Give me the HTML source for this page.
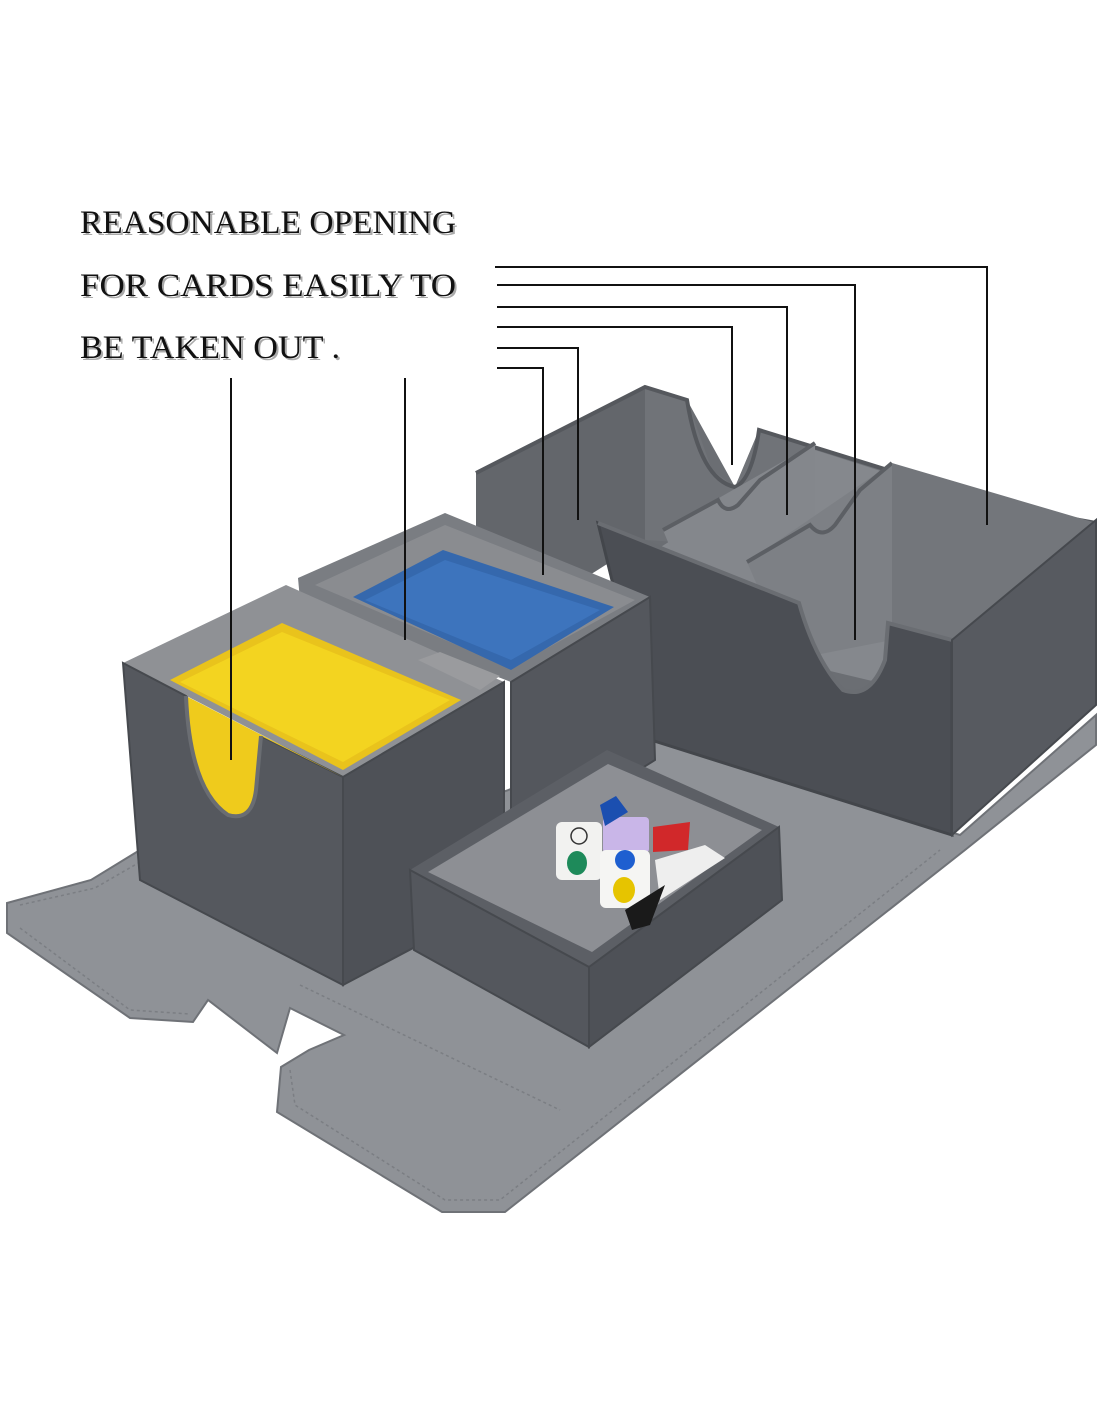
<!DOCTYPE html>
<html><head><meta charset="utf-8"><style>
html,body{margin:0;padding:0;background:#fff;}
svg{display:block}
.t{font-family:"Liberation Serif",serif;font-size:33px;fill:#111;}
.s{font-family:"Liberation Serif",serif;font-size:33px;fill:#aaa;}
</style></head><body>
<svg width="1100" height="1422" viewBox="0 0 1100 1422" xmlns="http://www.w3.org/2000/svg">
<rect width="1100" height="1422" fill="#fff"/>
<g>
<text class="s" x="82" y="235" textLength="376" lengthAdjust="spacingAndGlyphs">REASONABLE OPENING</text>
<text class="t" x="80" y="233" textLength="376" lengthAdjust="spacingAndGlyphs">REASONABLE OPENING</text>
<text class="s" x="82" y="298" textLength="376" lengthAdjust="spacingAndGlyphs">FOR CARDS  EASILY TO</text>
<text class="t" x="80" y="296" textLength="376" lengthAdjust="spacingAndGlyphs">FOR CARDS  EASILY TO</text>
<text class="s" x="82" y="360" textLength="260" lengthAdjust="spacingAndGlyphs">BE TAKEN OUT .</text>
<text class="t" x="80" y="358" textLength="260" lengthAdjust="spacingAndGlyphs">BE TAKEN OUT .</text>
</g>

<polygon points="7,903 91,880 140,850 480,800 650,740 960,835 1096,715 1096,745 965,850 505,1212 442,1212 277,1112 281,1067 309,1050 344,1035 290,1008 277,1053 208,1000 193,1022 130,1018 7,933" fill="#8f9297" stroke="#6f7277" stroke-width="2"/>
<g stroke="#7b7e83" stroke-width="1.5" fill="none" stroke-dasharray="3,3">
<polyline points="20,905 95,888 140,862"/>
<polyline points="20,928 130,1010 190,1014"/>
<polyline points="290,1070 295,1105 445,1200 500,1200 940,850"/>
<line x1="300" y1="985" x2="560" y2="1110"/>
</g>

<polygon points="476,473 645,387 687,400 735,487 759,430 952,490 958,497 992,570 1024,510 1096,523 1096,705 952,835 650,740 598,523" fill="#6b6e73"/>
<polygon points="476,473 645,387 645,540 566,590 476,560" fill="#63666b"/>
<polygon points="645,387 687,400 712,470 735,487 759,430 952,490 952,560 645,540" fill="#707378"/>
<path d="M476,473 L645,387 L687,400 Q700,480 735,487 Q752,480 759,430 L952,490 L958,497 Q970,565 992,570 Q1015,565 1024,510 L1096,523" fill="none" stroke="#55585d" stroke-width="4"/>
<polygon points="640,560 815,450 1096,540 1096,700 952,700 700,640" fill="#85888d"/>
<polygon points="663,530 815,443 815,600 700,620" fill="#84878c"/>
<path d="M663,530 L718,500 Q725,515 738,505 L760,480 L815,443" fill="none" stroke="#5c5f64" stroke-width="4"/>
<polygon points="747,562 892,463 892,640 790,660" fill="#7d8085"/>
<path d="M747,562 L810,525 Q822,540 835,525 L860,490 L892,463" fill="none" stroke="#5c5f64" stroke-width="4"/>
<polygon points="892,463 1096,523 1096,700 952,640 892,630" fill="#73767b"/>
<path d="M598,523 L799,603 Q815,660 843,690 Q870,700 885,660 L888,623 L952,640 L952,835 L651,740 Z" fill="#4b4e54" stroke="#43464b" stroke-width="3"/>
<path d="M598,523 L799,603 Q815,660 843,690 Q870,700 885,660 L888,623 L952,640" fill="none" stroke="#6a6d72" stroke-width="4"/>
<polygon points="952,640 1096,520 1096,705 952,835" fill="#575a60" stroke="#46494e" stroke-width="2"/>

<polygon points="298,578 445,513 650,597 511,682 300,600" fill="#7a7d82"/>
<polygon points="315,585 445,525 635,600 511,668" fill="#8a8c90"/>
<polygon points="353,597 443,550 614,607 511,670" fill="#3568ad"/>
<polygon points="365,600 445,560 600,610 511,660" fill="#3d74bd"/>
<polygon points="511,682 650,597 655,760 511,850" fill="#54575d" stroke="#46494e" stroke-width="2"/>

<polygon points="123,663 286,585 504,682 343,777" fill="#8f9195"/>
<polygon points="170,680 282,623 461,700 343,770" fill="#e9c31c"/>
<polygon points="180,682 282,632 450,700 343,762" fill="#f3d420"/>
<polygon points="418,660 440,652 500,676 480,690" fill="#9a9b9e"/>
<path d="M123,663 L186,696 Q190,790 228,815 Q252,822 256,790 L261,736 L343,777 L343,985 L140,880 Z" fill="#55585e" stroke="#46494e" stroke-width="2"/>
<path d="M186,696 Q190,790 228,815 Q252,822 256,790 L261,736 L343,777 L186,696 Z" fill="#efcb1c"/>
<path d="M186,696 Q190,790 228,815 Q252,822 256,790 L261,736" fill="none" stroke="#6a6d72" stroke-width="4"/>
<polygon points="343,777 504,682 504,900 343,985" fill="#4e5157" stroke="#46494e" stroke-width="2"/>

<polygon points="410,870 607,750 779,827 589,967" fill="#5c5f65"/>
<polygon points="428,872 608,764 762,830 592,952" fill="#8d8f94"/>
<polygon points="410,870 589,967 589,1047 414,950" fill="#54575d" stroke="#46494e" stroke-width="2"/>
<polygon points="589,967 779,827 782,900 589,1047" fill="#4e5157" stroke="#46494e" stroke-width="2"/>
<rect x="556" y="822" width="46" height="58" rx="6" fill="#f2f2f0"/>
<circle cx="579" cy="836" r="8" fill="none" stroke="#333" stroke-width="1.5"/>
<ellipse cx="577" cy="863" rx="10" ry="12" fill="#1e8a5a"/>
<rect x="603" y="817" width="46" height="36" rx="4" fill="#c9b6e8"/>
<rect x="600" y="850" width="50" height="58" rx="6" fill="#f5f5f3"/>
<circle cx="625" cy="860" r="10" fill="#1e5fd0"/>
<ellipse cx="624" cy="890" rx="11" ry="13" fill="#e6c400"/>
<polygon points="653,827 690,822 688,850 653,852" fill="#d1282a"/>
<polygon points="655,860 705,845 725,858 660,900" fill="#eee"/>
<polygon points="600,805 616,796 628,812 605,826" fill="#1b4fb0"/>
<polygon points="625,910 665,885 650,925 632,930" fill="#1a1a1a"/>

<g stroke="#111" stroke-width="2" fill="none">
<polyline points="495,267 987,267 987,525"/>
<polyline points="497,285 855,285 855,640"/>
<polyline points="497,307 787,307 787,515"/>
<polyline points="497,327 732,327 732,465"/>
<polyline points="497,348 578,348 578,520"/>
<polyline points="497,368 543,368 543,575"/>
<line x1="231" y1="378" x2="231" y2="760"/>
<line x1="405" y1="378" x2="405" y2="640"/>
</g>
</svg>
</body></html>
